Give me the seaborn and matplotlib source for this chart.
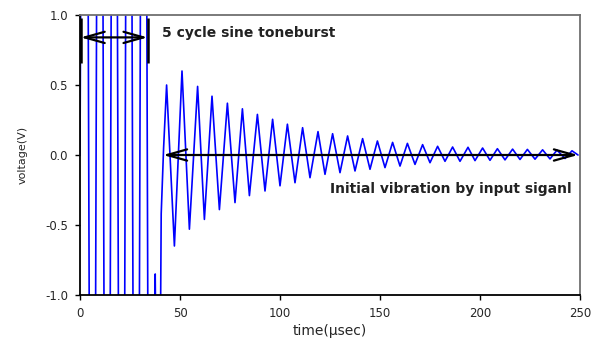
import numpy as np
import pandas as pd
import matplotlib
matplotlib.use('Agg')
import matplotlib.pyplot as plt
import seaborn as sns

# toneburst (saturated, runs off scale) - extrema
burst_t = [0.0, 2.5, 6.2, 9.9, 13.6, 17.1, 20.8, 24.4, 28.1, 31.8, 35.5]
burst_v = [0.0, 8.0, -8.0, 8.0, -8.0, 8.0, -8.0, 8.0, -8.0, 8.0, -8.0]

# gap between burst and ringing (small spike near -1, then rise)
gap_t = [37.3, 37.6, 37.9, 40.2, 40.6, 41.8]
gap_v = [-1.3, -0.85, -1.3, -1.3, -0.42, 0.05]

# decaying ringing: peaks and troughs
peak_t = [43.3, 51.0, 58.8, 66.0, 73.7, 81.2, 88.7, 96.3, 103.7, 111.3,
          119.0, 126.3, 133.8, 141.3, 148.7, 156.3, 163.7, 171.3, 178.8,
          186.3, 194.0, 201.3, 208.7, 216.3, 223.7, 231.3, 238.5, 246.0]
peak_v = [0.50, 0.60, 0.49, 0.42, 0.37, 0.33, 0.29, 0.255, 0.22, 0.195,
          0.167, 0.152, 0.136, 0.117, 0.10, 0.09, 0.083, 0.074, 0.062,
          0.057, 0.055, 0.05, 0.045, 0.042, 0.04, 0.037, 0.035, 0.03]
trough_t = [47.2, 54.7, 62.2, 69.7, 77.5, 84.7, 92.5, 100.0, 107.5, 115.0,
            122.5, 130.0, 137.5, 145.0, 152.5, 160.0, 167.5, 175.0, 182.5,
            190.0, 197.5, 205.0, 212.5, 220.0, 227.5, 235.0, 242.5, 249.0]
trough_v = [-0.65, -0.53, -0.46, -0.39, -0.34, -0.29, -0.257, -0.22, -0.198,
            -0.162, -0.138, -0.126, -0.114, -0.102, -0.09, -0.079, -0.067,
            -0.055, -0.045, -0.045, -0.04, -0.038, -0.035, -0.032, -0.03,
            -0.028, -0.025, 0.0]

x_ticks = [0, 50, 100, 150, 200, 250]
y_ticks = [-1.0, -0.5, 0.0, 0.5, 1.0]

df = pd.DataFrame({
    'time': burst_t + gap_t + peak_t + trough_t,
    'voltage': burst_v + gap_v + peak_v + trough_v,
}).sort_values('time')

sns.set_style('white')
plt.rcParams['font.family'] = ['DejaVu Sans']
plt.rcParams['axes.unicode_minus'] = False

fig = plt.figure(figsize=(5.95, 3.42), dpi=100)
ax = fig.add_axes([80 / 595, 1 - 295 / 342, 500 / 595, 280 / 342])

sns.lineplot(data=df, x='time', y='voltage', sort=False, estimator=None,
             color='#0000ff', lw=1.2, solid_joinstyle='round', ax=ax)

ax.set_xlim(0, 250)
ax.set_ylim(-1.0, 1.0)
ax.set_xticks(x_ticks)
ax.set_yticks(y_ticks)
ax.set_yticklabels([f'{v:.1f}' for v in y_ticks])
ax.tick_params(axis='both', direction='out', labelsize=8.5, pad=5,
               length=3.5, width=1, color='black', left=True, bottom=True)

for s in ['left', 'bottom']:
    ax.spines[s].set_color('black')
    ax.spines[s].set_linewidth(1.3)
for s in ['top', 'right']:
    ax.spines[s].set_color('#707070')
    ax.spines[s].set_linewidth(1.3)

ax.set_xlabel('time(\u00b5sec)', fontsize=10)
ax.set_ylabel('voltage(V)', fontsize=8)
ax.xaxis.set_label_coords(0.5, -0.105)
ax.yaxis.set_label_coords(-0.105, 0.5)

# annotations
arrow = dict(arrowstyle='<->,head_length=1.6,head_width=0.45', lw=1.6,
             color='black', shrinkA=0, shrinkB=0, mutation_scale=9)
ax.vlines([0.3, 33.8], 0.66, 0.98, colors='black', lw=1.8)
ax.annotate('', xy=(0.3, 0.84), xytext=(33.8, 0.84), arrowprops=arrow)
ax.text(41, 0.87, '5 cycle sine toneburst', fontsize=10, fontweight='bold',
        va='center', ha='left', color='#222222')

ax.annotate('', xy=(41.5, 0.0), xytext=(249, 0.0), arrowprops=arrow)
ax.text(125, -0.24, 'Initial vibration by input siganl', fontsize=10,
        fontweight='bold', va='center', ha='left', color='#222222')

fig.savefig('out.png', dpi=100)
